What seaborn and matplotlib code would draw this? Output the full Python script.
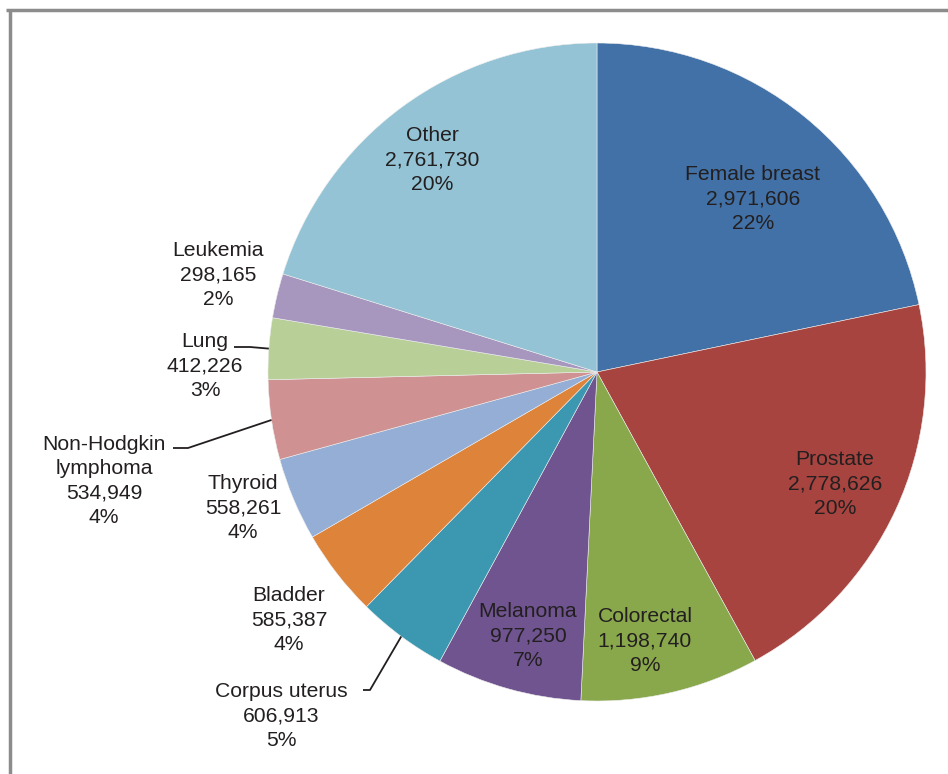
import matplotlib
matplotlib.use("Agg")
import matplotlib.pyplot as plt
import seaborn as sns
import numpy as np

# ---- data ----
categories = ["Female breast", "Prostate", "Colorectal", "Melanoma", "Corpus uterus",
              "Bladder", "Thyroid", "Non-Hodgkin\nlymphoma", "Lung", "Leukemia", "Other"]
values = [2971606, 2778626, 1198740, 977250, 606913,
          585387, 558261, 534949, 412226, 298165, 2761730]
pct_labels = ["22%", "20%", "9%", "7%", "5%", "4%", "4%", "4%", "3%", "2%", "20%"]
colors = ["#4171A7", "#A8443F", "#89A84C", "#6F5490", "#3B98B0", "#DD843A",
          "#94AED6", "#CF9191", "#B8D097", "#A797BF", "#93C3D4"]

sns.set_theme(style="white")
plt.rcParams["font.family"] = ["Liberation Sans", "DejaVu Sans"]

W, H = 948, 774
fig = plt.figure(figsize=(W / 100, H / 100), dpi=100)
ax = fig.add_axes([0, 0, 1, 1])

# pie geometry in pixels
CX, CY, R = 597.0, 372.0, 329.0


def P(x, y):
    return (x - CX) / R, (CY - y) / R


palette = sns.color_palette(colors)
wedges, _ = ax.pie(values, colors=palette, startangle=90, counterclock=False,
                   radius=1.0, center=(0, 0), frame=False,
                   wedgeprops=dict(edgecolor="#EDEDED", linewidth=0.4))
ax.set_xlim((0 - CX) / R, (W - CX) / R)
ax.set_ylim((CY - H) / R, CY / R)
ax.set_aspect("auto")
ax.axis("off")

# label centres (pixels)
label_pos = {
    "Female breast": (753, 199),
    "Prostate": (835, 484),
    "Colorectal": (645, 641),
    "Melanoma": (528, 636),
    "Corpus uterus": (281, 716),
    "Bladder": (289, 620),
    "Thyroid": (243, 508),
    "Non-Hodgkin\nlymphoma": (104, 481),
    "Lung": (205, 366),
    "Leukemia": (218, 275),
    "Other": (432, 160),
}

for cat, val, pct in zip(categories, values, pct_labels):
    x, y = P(*label_pos[cat])
    ax.text(x, y, f"{cat}\n{val:,}\n{pct}", ha="center", va="center",
            fontsize=15.2, color="#231F20", linespacing=1.37)

# leader lines: text end -> elbow -> wedge mid-edge
leaders = {
    "Corpus uterus": [(363, 690), (370, 690)],
    "Non-Hodgkin\nlymphoma": [(173, 448), (188, 448)],
    "Lung": [(234, 347), (250, 347)],
}
for cat, pts in leaders.items():
    w = wedges[categories.index(cat)]
    mid = np.deg2rad((w.theta1 + w.theta2) / 2)
    ex, ey = np.cos(mid), np.sin(mid)
    xs = [P(*p)[0] for p in pts] + [ex]
    ys = [P(*p)[1] for p in pts] + [ey]
    ax.plot(xs, ys, color="#231F20", lw=1.3, solid_capstyle="butt")

# frame (top and left border of the original figure)
ax.plot([P(6, 10)[0], P(W, 10)[0]], [P(6, 10)[1], P(W, 10)[1]],
        color="#8C8C8C", lw=2.5, solid_capstyle="butt")
ax.plot([P(10, 9)[0], P(10, H)[0]], [P(10, 9)[1], P(10, H)[1]],
        color="#8C8C8C", lw=2.5, solid_capstyle="butt")

fig.savefig("out.png", dpi=100, facecolor="white")
